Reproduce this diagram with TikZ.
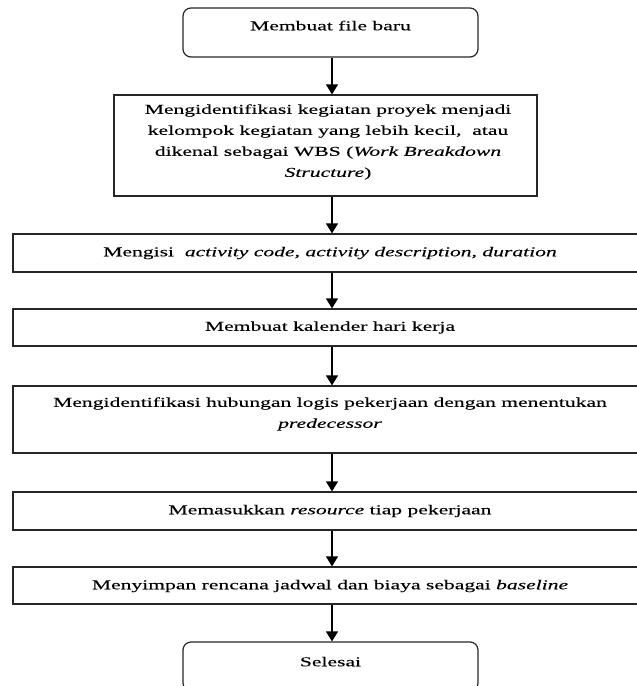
\documentclass[tikz,border=0pt]{standalone}
\usepackage{fontspec}
\setmainfont{Liberation Serif}[FakeStretch=1.6, FakeBold=0.15, ItalicFont={Liberation Serif Italic}, ItalicFeatures={FakeStretch=1.6, FakeBold=0.15}]
\usetikzlibrary{arrows.meta}
\begin{document}
\begin{tikzpicture}[x=1pt,y=-1pt,
  boxline/.style={draw=black!85, line width=1.2pt},
  rbox/.style={boxline, rounded corners=8pt, minimum width=295pt, minimum height=49pt, inner sep=0pt},
  sbox/.style={boxline, inner sep=0pt},
  txt/.style={font=\fontsize{13.5}{21}\selectfont, align=center, inner sep=0pt},
  one/.style={text height=0.7em, text depth=0.25em},
  arr/.style={line width=1.2pt, -{Triangle[width=12pt,length=10pt]}}]
\useasboundingbox (0,0) rectangle (637,686);
\clip (0,0) rectangle (637,686);
\coordinate (ax) at (332,0);
% boxes
\node[rbox] (b1) at (330.5,32.5) {};
\node[txt,one] (t1) at (330.5,28) {Membuat file baru};
\node[sbox, minimum width=423pt, minimum height=101pt] (b2) at (325.5,145.5) {};
\node[txt] (t2) at (328,142) {Mengidentifikasi kegiatan proyek menjadi\\kelompok kegiatan yang lebih kecil,\ \ atau\\dikenal sebagai WBS (\textit{Work Breakdown}\\\textit{Structure})};
\node[sbox, minimum width=639pt, minimum height=38pt] (b3) at (332.5,253) {};
\node[txt,one] (t3) at (330,254) {Mengisi \ \textit{activity code, activity description, duration}};
\node[sbox, minimum width=639pt, minimum height=37pt] (b4) at (332.5,327.5) {};
\node[txt,one] (t4) at (330,328.5) {Membuat kalender hari kerja};
\node[sbox, minimum width=639pt, minimum height=67pt] (b5) at (332.5,419.5) {};
\node[txt] (t5) at (330,414) {Mengidentifikasi hubungan logis pekerjaan dengan menentukan\\\textit{predecessor}};
\node[sbox, minimum width=639pt, minimum height=38pt] (b6) at (332.5,511) {};
\node[txt,one] (t6) at (330,512) {Memasukkan \textit{resource} tiap pekerjaan};
\node[sbox, minimum width=639pt, minimum height=37pt] (b7) at (332.5,585.5) {};
\node[txt,one] (t7) at (330,587) {Menyimpan rencana jadwal dan biaya sebagai \textit{baseline}};
\node[rbox] (b8) at (330.5,666.5) {};
\node[txt,one] (t8) at (330.5,664) {Selesai};
% arrows
\draw[arr] (b1.south -| ax) -- (b2.north -| ax);
\draw[arr] (b2.south -| ax) -- (b3.north -| ax);
\draw[arr] (b3.south -| ax) -- (b4.north -| ax);
\draw[arr] (b4.south -| ax) -- (b5.north -| ax);
\draw[arr] (b5.south -| ax) -- (b6.north -| ax);
\draw[arr] (b6.south -| ax) -- (b7.north -| ax);
\draw[arr] (b7.south -| ax) -- (b8.north -| ax);
\end{tikzpicture}
\end{document}
